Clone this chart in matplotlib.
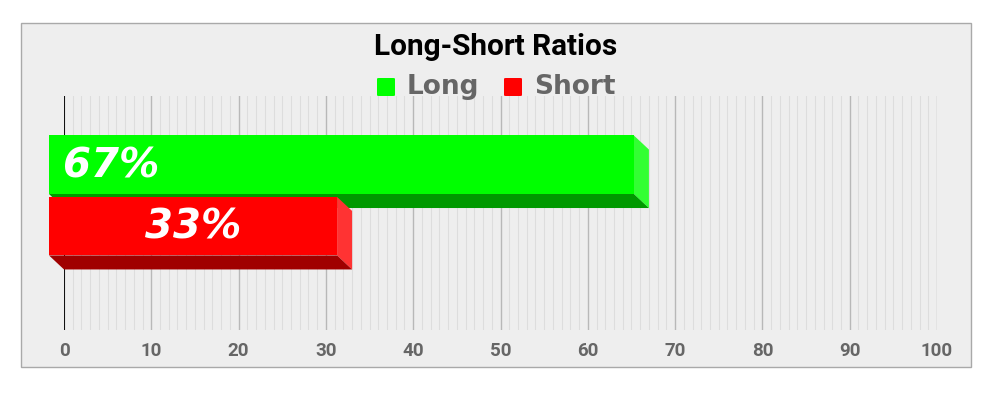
import matplotlib
matplotlib.use("Agg")
import matplotlib.pyplot as plt
from matplotlib.patches import Polygon, Rectangle, FancyBboxPatch
import numpy as np

# ____________________ Data ____________________
series = ["Long", "Short"]
values = [67, 33]
labels = ["67%", "33%"]
front_colors = ["#00ff00", "#ff0000"]
side_colors = ["#33ff33", "#ff3333"]
bottom_colors = ["#009900", "#a00000"]
ticks = list(range(0, 101, 10))

# ____________________ Figure ____________________
fig = plt.figure(figsize=(10, 4.07), dpi=100)
fig.patch.set_facecolor("white")

# gray panel behind the chart
panel = Rectangle((0.021, (407 - 367) / 407), 0.950, 344 / 407, transform=fig.transFigure,
                  facecolor="#eeeeee", edgecolor="#a9a9a9", lw=1.0, zorder=-5)
fig.patches.append(panel)

ax = fig.add_axes([0.064, (407 - 330) / 407, 0.873, 234 / 407])
ax.set_zorder(1)
ax.set_facecolor("none")
ax.set_xlim(0, 100)
ax.set_ylim(0, 4)
for s in ax.spines.values():
    s.set_visible(False)

# grid lines
for v in np.arange(1, 101, 1):
    if v % 10 == 0:
        ax.axvline(v, color="#b8b8b8", lw=1.0, zorder=1)
    else:
        ax.axvline(v, color="#dddddd", lw=0.8, zorder=1)
ax.axvline(0, color="#111111", lw=1.5, zorder=1)

ax.set_xticks(ticks)
ax.set_xticklabels([str(t) for t in ticks], fontfamily="Roboto", fontweight="bold",
                   fontsize=13.5, color="#666666")
ax.tick_params(axis="x", length=0, pad=9)
ax.set_yticks([])

# ____________________ 3D bars ____________________
depth_x = 1.72
depth_y = 0.24
bar_h = 1.0
gap = 0.05
center = 2.06
n = len(values)
for i, v in enumerate(values):
    y0 = center + (n / 2 - i - 1) * (bar_h + gap) + gap / 2
    y1 = y0 + bar_h
    side = Polygon([(v, y0), (v, y1), (v - depth_x, y1 + depth_y), (v - depth_x, y0 + depth_y)],
                   closed=True, facecolor=side_colors[i], edgecolor="none", zorder=3, clip_on=False)
    bottom = Polygon([(0, y0), (v, y0), (v - depth_x, y0 + depth_y), (-depth_x, y0 + depth_y)],
                     closed=True, facecolor=bottom_colors[i], edgecolor="none", zorder=3, clip_on=False)
    front = Rectangle((-depth_x, y0 + depth_y), v, bar_h, facecolor=front_colors[i],
                      edgecolor="none", zorder=4, clip_on=False)
    for p in (side, bottom, front):
        ax.add_patch(p)
    ymid = y0 + depth_y + bar_h / 2 - 0.03
    if i == 0:
        ax.text(-0.1, ymid, labels[i], ha="left", va="center", color="white",
                fontsize=29, fontweight="bold", fontstyle="oblique", zorder=5)
    else:
        ax.text(-depth_x + v / 2, ymid, labels[i], ha="center", va="center", color="white",
                fontsize=29, fontweight="bold", fontstyle="oblique", zorder=5)

# ____________________ Title and legend ____________________
fig.text(0.496, 1 - 47 / 407, "Long-Short Ratios", ha="center", va="center",
         fontfamily="Roboto", fontweight="bold", fontsize=21.4, color="black")

leg_y = 1 - 87 / 407
sq_w = 18 / 1000
sq_h = 18 / 407
for name, col, sx, tx in [(series[0], front_colors[0], 0.377, 0.407),
                          (series[1], front_colors[1], 0.504, 0.534)]:
    fig.patches.append(FancyBboxPatch((sx, leg_y - sq_h / 2), sq_w, sq_h,
                                      boxstyle="round,pad=0,rounding_size=0.002",
                                      transform=fig.transFigure,
                                      facecolor=col, edgecolor="none"))
    fig.text(tx, leg_y, name, ha="left", va="center", fontweight="bold",
             fontsize=19, color="#666666")

fig.savefig("out.png", dpi=100)
